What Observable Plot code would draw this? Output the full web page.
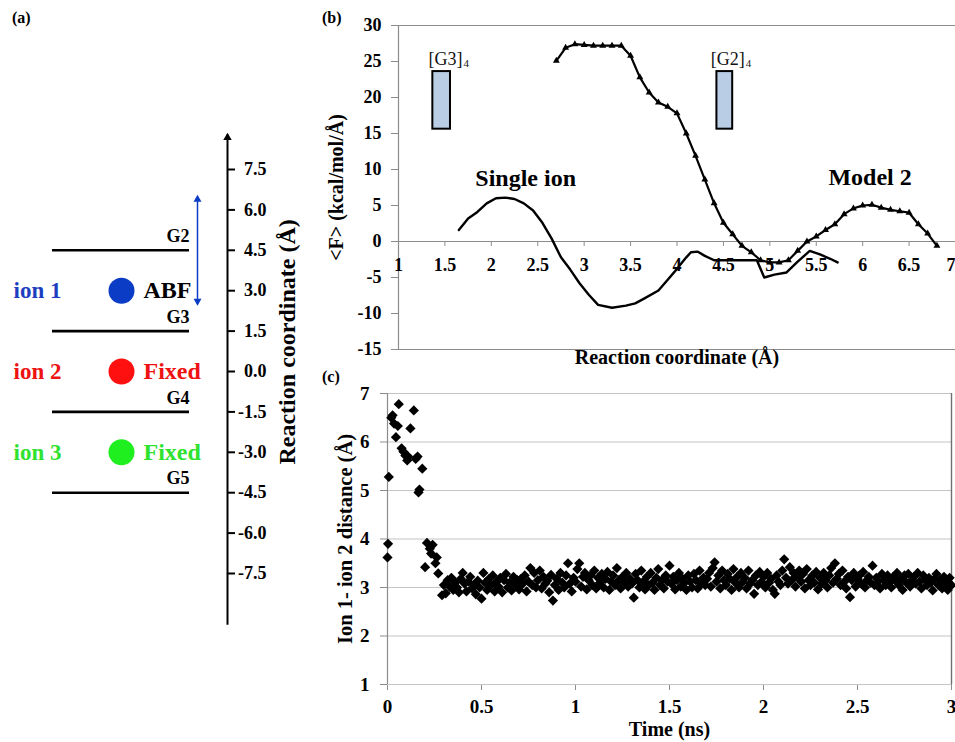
<!DOCTYPE html>
<html><head><meta charset="utf-8">
<script src="https://cdn.jsdelivr.net/npm/d3@7"></script>
<script src="https://cdn.jsdelivr.net/npm/@observablehq/plot@0.6"></script>
<style>
body{margin:0;background:#fff;}
#wrap{position:relative;width:955px;height:742px;overflow:hidden;background:#fff;font-family:"Liberation Serif","Times New Roman",serif;}
.panel{position:absolute;}
.tag{position:absolute;font-weight:bold;font-size:16px;line-height:1;font-family:"Liberation Serif","Times New Roman",serif;}
</style></head><body>
<div id="wrap">
  <div class="panel" id="pa" style="left:0;top:0"></div>
  <div class="panel" id="pb" style="left:320px;top:0"></div>
  <div class="panel" id="pc" style="left:320px;top:380px"></div>
  <div class="tag" style="left:12px;top:10px">(a)</div>
  <div class="tag" style="left:322px;top:10px">(b)</div>
  <div class="tag" style="left:322px;top:369px">(c)</div>
</div>
<script>
// ---------------- Panel (a) data ----------------
const gateNames = ["G2", "G3", "G4", "G5"];
const gateLevels = [4.5, 1.5, -1.5, -4.5];
const ionNames = ["ion 1", "ion 2", "ion 3"];
const ionStates = ["ABF", "Fixed", "Fixed"];
const ionLevels = [3.0, 0.0, -3.0];
const axisTicksA = [7.5, 6.0, 4.5, 3.0, 1.5, 0.0, -1.5, -3.0, -4.5, -6.0, -7.5];
const axisTickLabelsA = ["7.5", "6.0", "4.5", "3.0", "1.5", "0.0", "-1.5", "-3.0", "-4.5", "-6.0", "-7.5"];
const abfWindow = [2.5, 6.5];
const axisExtentA = [-9.4, 8.8];
const axisTitleA = "Reaction coordinate (Å)";

// ---------------- Panel (b) data ----------------
const singleIonX = [1.65,1.75,1.85,1.95,2.05,2.15,2.25,2.35,2.45,2.55,2.65,2.75,2.85,2.95,3.05,3.15,3.3,3.45,3.55,3.65,3.8,3.9,4.0,4.1,4.15,4.22,4.3,4.4,4.55,4.7,4.86,4.94,5.05,5.18,5.3,5.43,5.54,5.65,5.73];
const singleIonF = [1.6,3.2,4.1,5.3,6.0,6.1,5.9,5.3,4.3,2.6,0.4,-2.2,-3.9,-5.8,-7.4,-8.8,-9.2,-8.9,-8.6,-7.9,-6.8,-5.3,-3.8,-2.2,-1.5,-1.4,-2.0,-2.6,-2.6,-2.6,-2.6,-5.0,-4.6,-4.3,-2.8,-1.3,-1.8,-2.4,-2.9];
const model2X = [2.7,2.8,2.9,3.0,3.1,3.2,3.3,3.4,3.5,3.6,3.7,3.8,3.9,4.0,4.1,4.2,4.3,4.4,4.5,4.6,4.7,4.8,4.9,5.0,5.1,5.2,5.3,5.4,5.5,5.6,5.7,5.8,5.9,6.0,6.1,6.2,6.3,6.4,6.5,6.6,6.7,6.8];
const model2F = [25.1,26.9,27.4,27.3,27.2,27.2,27.2,27.2,25.8,22.8,20.7,19.3,18.7,17.8,15.0,11.9,8.6,5.3,2.6,1.0,-0.6,-1.5,-2.6,-2.9,-2.9,-2.6,-1.3,0.0,0.7,1.6,2.4,3.8,4.6,5.0,5.1,4.7,4.4,4.2,4.0,2.4,1.1,-0.6];
const gateBoxNames = ["[G3]", "[G2]"];
const gateBoxSub = ["4", "4"];
const gateBoxX1 = [1.37, 4.43];
const gateBoxX2 = [1.56, 4.60];
const gateBoxY1 = [15.6, 15.6];
const gateBoxY2 = [23.6, 23.6];
const curveNames = ["Single ion", "Model 2"];
const curveLabelX = [2.37, 6.08];
const curveLabelY = [8.8, 8.9];
const xTicksB = [1, 1.5, 2, 2.5, 3, 3.5, 4, 4.5, 5, 5.5, 6, 6.5, 7];
const yTicksB = [-15, -10, -5, 0, 5, 10, 15, 20, 25, 30];
const yTitleB = "<F> (kcal/mol/Å)";
const xTitleB = "Reaction coordinate (Å)";

// ---------------- Panel (c) data ----------------
const earlyTime = [0.000,0.003,0.007,0.020,0.027,0.035,0.045,0.055,0.060,0.075,0.085,0.095,0.105,0.110,0.122,0.140,0.150,0.160,0.165,0.170,0.185,0.200,0.210,0.225,0.232,0.240,0.255,0.262,0.270,0.290];
const earlyDist = [3.62,3.90,5.28,6.50,6.55,6.38,6.10,6.33,6.78,5.87,5.80,5.72,5.62,5.70,6.28,6.65,5.65,5.70,4.96,5.02,5.45,3.42,3.92,3.80,3.70,3.88,3.50,3.62,3.29,2.84];
const eqStart = 0.30, eqStep = 0.01;
const eqDist = [
 3.05,2.88,3.15,3.02,3.20,2.95,3.10,3.00,2.90,3.18,
 3.30,3.08,2.92,3.12,3.22,2.98,3.05,2.86,3.14,3.00,
 2.77,3.30,3.10,2.95,3.18,3.05,3.25,2.92,3.12,3.02,
 3.20,2.90,3.15,3.28,3.00,3.10,2.94,3.22,3.06,3.15,
 2.96,3.18,3.08,3.25,2.92,3.12,3.40,3.05,3.30,3.00,
 3.15,3.35,2.98,3.22,3.08,3.14,2.90,3.26,2.73,3.05,
 3.18,2.95,3.30,3.10,3.00,3.25,3.50,3.08,2.92,3.20,
 3.12,3.38,3.50,3.02,3.22,3.30,2.96,3.15,3.25,3.05,
 3.35,2.98,3.20,3.10,3.28,3.00,3.18,3.32,2.95,3.12,
 3.25,3.05,3.40,3.15,2.98,3.22,3.10,3.30,3.02,3.18,
 3.08,2.79,3.28,3.15,3.00,3.35,3.12,2.96,3.22,3.05,
 3.30,3.10,2.95,3.20,3.38,3.05,3.15,2.98,3.25,3.12,
 3.45,3.08,3.22,2.96,3.15,3.30,3.02,3.18,3.10,2.95,
 3.25,3.12,3.00,3.28,3.15,2.98,3.35,3.08,3.20,3.05,
 3.18,3.30,3.02,3.40,3.52,3.12,3.25,2.98,3.35,3.15,
 3.05,3.28,3.18,2.95,3.38,3.10,3.22,3.00,3.30,3.12,
 3.20,2.98,3.35,3.08,3.15,2.87,3.25,3.05,3.32,3.12,
 3.22,3.00,3.30,3.10,3.18,2.95,2.87,3.25,3.12,3.05,
 3.35,3.58,3.20,3.08,3.42,3.15,3.30,3.02,3.22,3.35,
 3.12,3.28,2.98,3.38,3.15,3.05,3.25,3.10,3.32,2.96,
 3.20,3.08,3.30,3.15,3.00,3.25,3.40,3.10,3.50,3.18,
 3.28,3.05,3.35,3.12,2.98,3.22,2.80,3.15,3.30,3.02,
 3.18,3.25,3.08,3.32,3.00,3.15,3.22,3.10,3.45,3.05,
 3.20,3.12,2.98,3.28,3.15,3.05,3.25,3.10,3.00,3.22,
 3.15,3.30,3.05,3.18,2.95,3.25,3.10,3.28,3.02,3.15,
 3.22,3.08,3.30,3.12,2.98,3.25,3.15,3.05,3.20,3.10,
 2.94,3.18,3.28,3.05,3.15,2.98,3.22,3.10,2.95,3.20,
 3.05];
const xTicksC = [0, 0.5, 1, 1.5, 2, 2.5, 3];
const yTicksC = [1, 2, 3, 4, 5, 6, 7];
const xTitleC = "Time (ns)";
const yTitleC = "Ion 1- ion 2 distance (Å)";

// ---------------- Build tables ----------------
const FONT = "'Liberation Serif', 'Times New Roman', serif";
const GRAY = "#8c8c8c";
const BLUE = "#0b3cc6", RED = "#ff1010", GREEN = "#1fee1f";
const ionFill = [BLUE, RED, GREEN];
const ionTextFill = ["#1d3fbf", "#ee1212", "#2fe22f"];

const gates = gateNames.map((name, i) => ({name, level: gateLevels[i]}));
const ions = ionNames.map((name, i) => ({name, state: ionStates[i], level: ionLevels[i], fill: ionFill[i], tfill: ionTextFill[i]}));
const ticksA = axisTicksA.map((v, i) => ({v, label: axisTickLabelsA[i]}));

// schematic column positions for panel (a)
const colA = {label: 13, ion: 121, state: 143, gateStart: 52, gateEnd: 189, windowX: 197, axis: 227, tickEnd: 235, tickLabel: 266, title: 287};

const plotA = Plot.plot({
  width: 300, height: 640, marginTop: 169, marginBottom: 67, marginLeft: 0, marginRight: 0,
  x: {domain: [0, 300], axis: null},
  y: {domain: [-7.5, 7.5], axis: null},
  color: {type: "identity"},
  style: {fontFamily: FONT, fontWeight: "bold", fontSize: "18px", background: "transparent", overflow: "visible"},
  marks: [
    Plot.ruleY(gates, {y: "level", x1: colA.gateStart, x2: colA.gateEnd, stroke: "black", strokeWidth: 2.6}),
    Plot.text(gates, {y: "level", x: colA.gateEnd, text: "name", textAnchor: "end", dy: -14, fontSize: 18}),
    Plot.dot(ions, {x: colA.ion, y: "level", r: 13, fill: "fill", stroke: null}),
    Plot.text(ions, {x: colA.label, y: "level", text: "name", textAnchor: "start", fill: "tfill", fontSize: 23}),
    Plot.text(ions, {x: colA.state, y: "level", text: "state", textAnchor: "start", fill: d => d.state === "ABF" ? "black" : d.tfill, fontSize: 24}),
    // ABF window double arrow
    Plot.link([abfWindow], {x1: colA.windowX, x2: colA.windowX, y1: d => d[0], y2: d => d[1], stroke: BLUE, strokeWidth: 1.5}),
    Plot.dot([abfWindow], {x: colA.windowX, y: d => d[1], symbol: "triangle2", r: 3.8, fill: BLUE, dy: 3}),
    Plot.dot([abfWindow], {x: colA.windowX, y: d => d[0], symbol: "triangle2", r: 3.8, fill: BLUE, rotate: 180, dy: -3}),
    // reaction coordinate axis
    Plot.link([axisExtentA], {x1: colA.axis, x2: colA.axis, y1: d => d[0], y2: d => d[1], stroke: "black", strokeWidth: 2}),
    Plot.dot([axisExtentA], {x: colA.axis, y: d => d[1], symbol: "triangle2", r: 4, fill: "black", dy: 3}),
    Plot.ruleY(ticksA, {y: "v", x1: colA.axis, x2: colA.tickEnd, stroke: "black", strokeWidth: 2}),
    Plot.text(ticksA, {y: "v", x: colA.tickLabel, text: "label", textAnchor: "end", fontSize: 18}),
    Plot.text([axisTitleA], {x: colA.title, y: 1.1, rotate: -90, textAnchor: "middle", fontSize: 24})
  ]
});
document.getElementById("pa").appendChild(plotA);

// ---------------- Panel (b) ----------------
const singleIon = singleIonX.map((x, i) => ({x, f: singleIonF[i]}));
const model2 = model2X.map((x, i) => ({x, f: model2F[i]}));
const boxes = gateBoxNames.map((name, i) => ({name, sub: gateBoxSub[i], x1: gateBoxX1[i], x2: gateBoxX2[i], y1: gateBoxY1[i], y2: gateBoxY2[i]}));
const curveLabels = curveNames.map((name, i) => ({name, x: curveLabelX[i], y: curveLabelY[i]}));
const lastTickB = xTicksB[xTicksB.length - 1];

const plotB = Plot.plot({
  width: 635, height: 380, marginLeft: 78, marginRight: 0, marginTop: 25, marginBottom: 31,
  x: {domain: [1, 7], axis: null},
  y: {domain: [-15, 30], ticks: yTicksB, tickSize: 7, tickPadding: 10, label: null, tickFormat: d => String(d)},
  style: {fontFamily: FONT, fontWeight: "bold", fontSize: "18px", background: "transparent", overflow: "visible"},
  marks: [
    Plot.ruleY([30, -15], {stroke: GRAY, strokeWidth: 1.2}),
    Plot.ruleY([0], {stroke: GRAY, strokeWidth: 1.2}),
    Plot.ruleX([1], {y1: -15, y2: 30, stroke: GRAY, strokeWidth: 1.2}),
    Plot.ruleX(xTicksB, {x: d => d, y1: 0, y2: -0.7, stroke: GRAY}),
    Plot.text(xTicksB.filter(d => d !== lastTickB), {x: d => d, y: 0, dy: 24, text: d => String(d), fontSize: 18}),
    Plot.text([lastTickB], {x: d => d, y: 0, dy: 24, text: d => String(d), textAnchor: "end", fontSize: 18}),
    Plot.rect(boxes, {x1: "x1", x2: "x2", y1: "y1", y2: "y2", fill: "#b9cde5", stroke: "black", strokeWidth: 2}),
    Plot.text(boxes, {x: "x2", y: "y2", text: "name", textAnchor: "end", dx: 12, dy: -12.5, fontWeight: "normal", fontSize: 18, fill: "#111"}),
    Plot.text(boxes, {x: "x2", y: "y2", text: "sub", textAnchor: "start", dx: 13, dy: -8, fontWeight: "normal", fontSize: 11, fill: "#111"}),
    Plot.line(singleIon, {x: "x", y: "f", stroke: "black", strokeWidth: 2.4}),
    Plot.line(model2, {x: "x", y: "f", stroke: "black", strokeWidth: 2.2}),
    Plot.dot(model2, {x: "x", y: "f", symbol: "triangle2", r: 3.3, fill: "black"}),
    Plot.text(curveLabels, {x: "x", y: "y", text: "name", fontSize: 24}),
    Plot.text([yTitleB], {frameAnchor: "left", rotate: -90, textAnchor: "middle", dx: -62, fontSize: 20}),
    Plot.text([xTitleB], {frameAnchor: "bottom", textAnchor: "middle", dy: 14, fontSize: 20})
  ]
});
document.getElementById("pb").appendChild(plotB);

// ---------------- Panel (c) ----------------
const distance = earlyTime.map((t, i) => ({t, d: earlyDist[i]}))
  .concat(eqDist.map((d, i) => ({t: eqStart + i * eqStep, d})));

const plotC = Plot.plot({
  width: 635, height: 362, marginLeft: 67, marginRight: 4, marginTop: 13, marginBottom: 58,
  x: {domain: [0, 3], ticks: xTicksC, tickSize: 6, tickPadding: 9, label: null, tickFormat: d => String(d)},
  y: {domain: [1, 7], ticks: yTicksC, tickSize: 7, tickPadding: 11, label: null, tickFormat: d => String(d)},
  style: {fontFamily: FONT, fontWeight: "bold", fontSize: "19px", background: "transparent", overflow: "visible"},
  marks: [
    Plot.ruleY(yTicksC, {stroke: "#c4c4c4", strokeWidth: 1.2}),
    Plot.ruleX([0], {stroke: GRAY, strokeWidth: 1.2}),
    Plot.ruleX([3], {stroke: "#707070", strokeWidth: 1.4}),
    Plot.dot(distance, {x: "t", y: "d", symbol: "diamond2", r: 4.6, fill: "black"}),
    Plot.text([xTitleC], {frameAnchor: "bottom", textAnchor: "middle", dy: 51, fontSize: 20}),
    Plot.text([yTitleC], {frameAnchor: "left", rotate: -90, textAnchor: "middle", dx: -42, fontSize: 20.5})
  ]
});
document.getElementById("pc").appendChild(plotC);

// gray axis ticks and serif bold axis labels (as in the reference)
for (const svg of [plotB, plotC]) {
  const s = d3.select(svg);
  s.selectAll('g[aria-label$="-axis tick"] path, g[aria-label$="-axis"] line, g[aria-label="y-axis tick"], g[aria-label="x-axis tick"]')
    .attr("stroke", GRAY);
  s.selectAll('g[aria-label$="tick label"] text, g[aria-label$="-axis"] text')
    .style("font-family", FONT).style("font-weight", "bold").style("font-size", svg === plotB ? "18px" : "19px");
}
d3.selectAll("#wrap svg text").style("font-family", FONT);
</script>
</body></html>
